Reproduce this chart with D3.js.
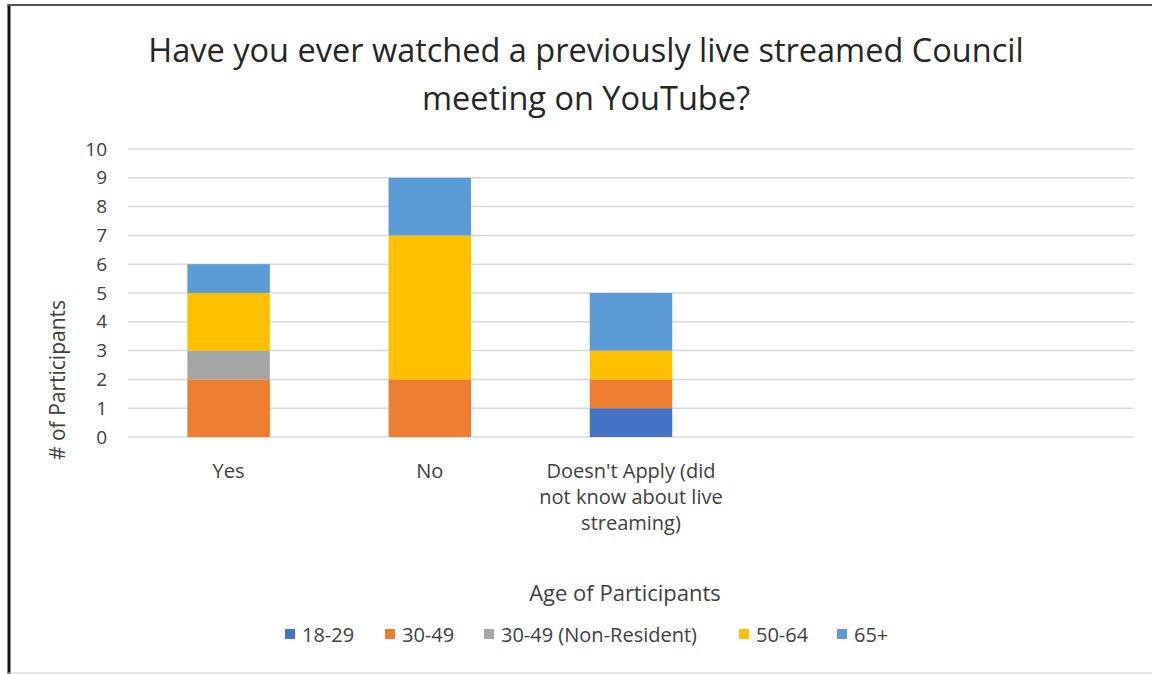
<!DOCTYPE html>
<html>
<head>
<meta charset="utf-8">
<script src="https://cdn.jsdelivr.net/npm/d3@7"></script>
<style>
  html, body { margin: 0; padding: 0; background: #fff; }
  svg { display: block; font-family: "Open Sans", "Noto Sans", sans-serif; }
</style>
</head>
<body>
<svg id="chart" width="1152" height="674"></svg>
<script>
// ---- Data ----
const categories = ["Yes", "No", "Doesn't Apply (did not know about live streaming)", "", ""];
const seriesNames = ["18-29", "30-49", "30-49 (Non-Resident)", "50-64", "65+"];
const s18_29 = [0, 0, 1];
const s30_49 = [2, 2, 1];
const s30_49NR = [1, 0, 0];
const s50_64 = [2, 5, 1];
const s65plus = [1, 2, 2];
const yTicks = [0, 1, 2, 3, 4, 5, 6, 7, 8, 9, 10];
const colors = ["#4472C4", "#ED7D31", "#A5A5A5", "#FFC000", "#5B9BD5"];

(function () {
const seriesValues = [s18_29, s30_49, s30_49NR, s50_64, s65plus];
const table = categories.slice(0, 3).map((c, i) => {
  const row = { idx: i };
  seriesNames.forEach((s, j) => row[s] = seriesValues[j][i]);
  return row;
});

const svg = d3.select("#chart");

// border
svg.append("line").attr("x1", 9).attr("x2", 9).attr("y1", 4).attr("y2", 674)
  .attr("stroke", "#111").attr("stroke-width", 3);
svg.append("line").attr("x1", 8).attr("x2", 1152).attr("y1", 5).attr("y2", 5)
  .attr("stroke", "#555").attr("stroke-width", 2);
svg.append("line").attr("x1", 8).attr("x2", 1152).attr("y1", 673).attr("y2", 673)
  .attr("stroke", "#ccc").attr("stroke-width", 1);

// title
const title = svg.append("text").attr("text-anchor", "middle")
  .attr("fill", "#262626").style("font-size", "32.5px");
title.append("tspan").attr("x", 586).attr("y", 62).text("Have you ever watched a previously live streamed Council");
title.append("tspan").attr("x", 586).attr("y", 110).text("meeting on YouTube?");

const pLeft = 128, pRight = 1134, pTop = 149, pBottom = 437;

const x = d3.scaleBand().domain(d3.range(categories.length)).range([pLeft, pRight]).padding(0);
const y = d3.scaleLinear().domain([0, 10]).range([pBottom, pTop]);

// gridlines
svg.append("g").selectAll("line").data(yTicks).join("line")
  .attr("x1", pLeft).attr("x2", pRight)
  .attr("y1", d => y(d)).attr("y2", d => y(d))
  .attr("stroke", "#d9d9d9").attr("stroke-width", 1.5);

// y axis labels
const yAxis = d3.axisLeft(y).tickValues(yTicks).tickSize(0).tickPadding(0);
const gy = svg.append("g").attr("transform", `translate(107,0)`).call(yAxis);
gy.select(".domain").remove();
gy.selectAll("text").attr("fill", "#404040").style("font-size", "19px")
  .style("font-family", '"Open Sans", sans-serif');

// stacked bars
const stack = d3.stack().keys(seriesNames);
const stacked = stack(table);
const barW = x.bandwidth() * 0.41;
svg.append("g").selectAll("g").data(stacked).join("g")
  .attr("fill", (d, i) => colors[i])
  .selectAll("rect").data(d => d).join("rect")
  .attr("x", d => x(d.data.idx) + (x.bandwidth() - barW) / 2)
  .attr("width", barW)
  .attr("y", d => y(d[1]))
  .attr("height", d => y(d[0]) - y(d[1]));

// x labels (wrapped)
const xLabelLines = [["Yes"], ["No"], ["Doesn't Apply (did", "not know about live", "streaming)"], [], []];
const gx = svg.append("g");
categories.forEach((c, i) => {
  const t = gx.append("text").attr("text-anchor", "middle").attr("fill", "#404040")
    .style("font-size", "20px");
  xLabelLines[i].forEach((ln, k) => {
    t.append("tspan").attr("x", x(i) + x.bandwidth() / 2).attr("y", 478 + k * 26).text(ln);
  });
});

// y axis title
svg.append("text").attr("transform", "translate(65,380) rotate(-90)")
  .attr("text-anchor", "middle").attr("fill", "#404040").style("font-size", "21px")
  .text("# of Participants");

// legend title
svg.append("text").attr("x", 625).attr("y", 601).attr("text-anchor", "middle")
  .attr("fill", "#404040").style("font-size", "22px").text("Age of Participants");

// legend
const legendX = [285, 385, 484, 739, 837];
const lg = svg.append("g").selectAll("g").data(seriesNames).join("g")
  .attr("transform", (d, i) => `translate(${legendX[i]},635)`);
lg.append("rect").attr("x", 0).attr("y", -6).attr("width", 10).attr("height", 10)
  .attr("fill", (d, i) => colors[i]);
lg.append("text").attr("x", 17).attr("y", 7).attr("fill", "#404040")
  .style("font-size", "20px").text(d => d);
})();
</script>
</body>
</html>
